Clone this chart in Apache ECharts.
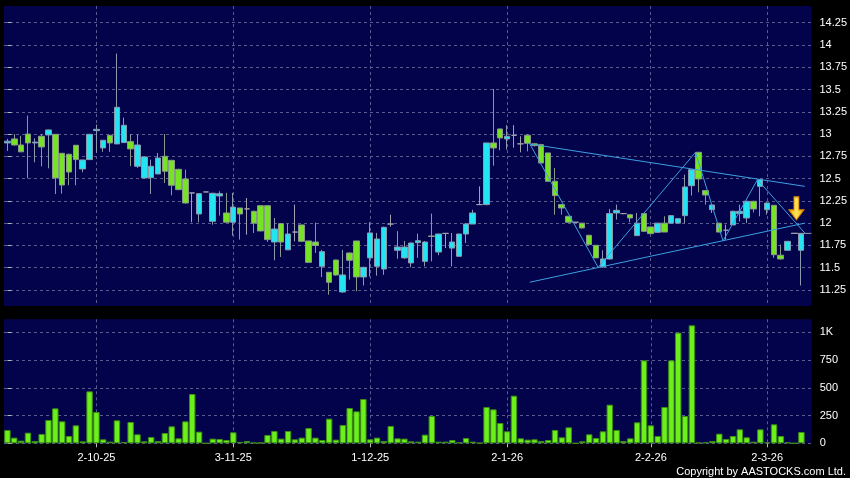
<!DOCTYPE html>
<html><head><meta charset="utf-8">
<script src="https://cdn.jsdelivr.net/npm/echarts@6/dist/echarts.min.js"></script>
<style>html,body{margin:0;padding:0;background:#000;}#c{width:850px;height:478px;}</style>
</head><body><div id="c"></div>
<script>
// ---- calendar (trading days) ----
const startDate = '2025-09-12';
const slotCount = 118; // 117 trading days + one empty slot at right
const holidays = ['2025-10-01','2025-10-07','2025-10-29','2025-12-24','2025-12-25','2025-12-26','2026-01-01','2026-02-17','2026-02-18','2026-02-19'];

// ---- price data (per trading day) ----
const opens  = [12.90,12.945,12.877,13.0,12.90,12.975,12.99,12.997,12.784,12.773,12.874,12.608,12.713,13.038,12.844,12.986,12.889,12.904,12.915,12.638,
 12.507,12.51,12.552,12.75,12.705,12.604,12.496,12.339,12.103,12.35,12.02,12.305,12.114,12.01,12.17,12.16,12.133,12.196,12.196,11.788,
 11.994,11.70,11.90,11.98,11.80,11.788,11.515,11.448,11.586,11.227,11.665,11.80,11.396,11.61,11.515,11.485,11.99,11.695,11.61,11.553,
 11.781,11.571,11.856,11.676,11.885,11.72,11.628,11.878,11.99,12.208,12.208,12.90,13.057,12.945,12.985,12.89,12.986,12.89,12.881,12.788,
 12.47,12.208,12.077,12.01,12.0,11.863,11.751,11.508,11.598,12.114,12.107,12.095,11.86,12.107,11.957,11.897,12.0,12.0,12.0,12.084,
 12.42,12.795,12.365,12.151,12.0,11.92,11.98,12.107,12.058,12.245,12.413,12.151,12.20,11.64,11.695,11.885,11.695];
const closes = [12.92,12.877,12.80,12.90,12.91,12.855,13.046,12.507,12.428,12.574,12.713,12.709,12.997,13.053,12.93,12.90,13.30,13.098,12.833,12.877,
 12.743,12.638,12.731,12.582,12.425,12.376,12.226,12.339,12.331,12.35,12.335,12.33,12.01,12.18,12.103,12.16,12.0,11.912,11.815,11.934,
 11.788,11.878,11.90,11.796,11.56,11.75,11.68,11.336,11.418,11.418,11.583,11.396,11.504,11.89,11.822,11.953,11.99,11.732,11.732,11.777,
 11.803,11.788,11.85,11.878,11.885,11.788,11.878,11.99,12.114,12.208,12.90,12.844,12.956,12.975,12.985,12.89,12.896,12.87,12.675,12.47,
 12.309,12.17,12.01,12.01,11.946,11.759,11.61,11.598,12.107,12.144,12.107,12.058,12.0,11.908,11.882,12.0,11.90,12.084,12.05,12.406,
 12.60,12.496,12.316,12.204,11.90,11.92,12.133,12.133,12.245,12.159,12.488,12.226,11.646,11.598,11.796,11.885,11.878];
const lows   = [12.81,12.87,12.80,12.503,12.683,12.638,12.615,12.327,12.331,12.425,12.425,12.571,12.71,12.788,12.80,12.80,12.889,12.90,12.64,12.62,
 12.50,12.327,12.55,12.45,12.312,12.37,12.22,12.01,12.01,12.35,11.983,12.084,12.01,11.86,11.815,11.87,11.89,11.91,11.79,11.583,
 11.62,11.70,11.796,11.79,11.56,11.665,11.395,11.197,11.41,11.22,11.366,11.235,11.30,11.40,11.41,11.42,11.96,11.60,11.60,11.504,
 11.61,11.515,11.571,11.64,11.72,11.515,11.62,11.777,11.99,12.208,12.20,12.645,12.818,12.825,12.847,12.795,12.806,12.86,12.67,12.47,
 12.095,12.095,12.01,12.01,11.94,11.75,11.61,11.50,11.59,12.04,12.10,12.01,11.86,11.90,11.88,11.89,11.90,12.0,12.0,12.0,
 12.309,12.346,12.208,12.114,11.90,11.815,11.98,12.02,12.0,12.12,12.077,12.095,11.61,11.59,11.69,11.885,11.30];
const highs  = [12.945,13.0,12.98,13.207,12.952,13.0,13.05,13.0,12.784,12.78,12.874,12.71,13.0,13.106,12.93,12.99,13.903,13.184,13.0,12.997,
 12.75,12.713,12.788,13.0,12.71,12.61,12.60,12.34,12.335,12.35,12.34,12.357,12.34,12.34,12.17,12.282,12.14,12.2,12.2,12.058,
 12.0,11.994,12.208,11.98,11.80,12.005,11.70,11.45,11.59,11.70,11.67,11.80,11.51,12.01,11.89,11.96,12.095,11.91,11.80,11.78,
 11.882,11.80,12.107,11.88,11.885,11.89,11.88,12.0,12.15,12.413,12.90,13.506,13.06,13.10,13.10,12.975,13.0,12.90,12.89,12.79,
 12.62,12.21,12.08,12.01,12.0,11.87,11.75,11.695,12.16,12.208,12.11,12.10,12.114,12.114,11.96,12.0,12.077,12.09,12.05,12.544,
 12.60,12.80,12.37,12.21,12.0,11.983,12.14,12.208,12.25,12.25,12.49,12.23,12.20,11.759,11.80,11.885,11.885];
const volumes = [120,51,24,96,21,84,210,315,198,66,162,18,468,282,36,15,207,12,192,81,
 18,57,21,93,153,45,198,444,105,0,42,39,30,99,12,21,6,6,75,111,
 42,111,36,51,138,51,30,222,33,165,318,288,399,36,51,21,156,45,42,18,
 15,78,246,15,15,30,9,48,15,3,327,306,183,108,429,45,33,36,21,30,
 120,54,144,0,18,81,48,108,348,120,21,45,189,747,162,66,327,747,997,246,
 1063,6,9,21,87,39,66,126,54,15,126,9,171,66,9,0,102];

// ---- annotations (x in trading-day index, y in price) ----
const upperTrend = [[76.34,12.888],[116.52,12.413]];
const lowerTrend = [[76.34,11.337],[116.52,12.0]];
const zigzag = [[76.34,12.889],[86.32,11.504],[100.55,12.795],[104.58,11.80],[109.61,12.488],[116.52,11.89]];
const lastPrice = [[114.5,11.885],[117.5,11.885]];
const arrowPoint = [[115.3,12.166]];

// ---- axis ticks ----
const priceTicks = [11.25,11.5,11.75,12,12.25,12.5,12.75,13,13.25,13.5,13.75,14,14.25];
const volumeTicks = [0,250,500,750,1000];

function tradingDays(start, n, hol) {
  const out = []; const d = new Date(start + 'T00:00:00Z');
  while (out.length < n) {
    const dow = d.getUTCDay(); const iso = d.toISOString().slice(0,10);
    if (dow !== 0 && dow !== 6 && !hol.includes(iso)) out.push(iso);
    d.setUTCDate(d.getUTCDate() + 1);
  }
  return out;
}
const dates = tradingDays(startDate, slotCount, holidays);
const monthStarts = [];
for (let i = 1; i < dates.length; i++) if (dates[i].slice(5,7) !== dates[i-1].slice(5,7)) monthStarts.push(i);
function fmtDate(iso) { const [y,m,d] = iso.split('-'); return (+d) + '-' + (+m) + '-' + y.slice(2); }

const candleData = opens.map((o,i) => [o, closes[i], lows[i], highs[i]]);

const chart = echarts.init(document.getElementById('c'), null, {renderer: 'canvas'});
const font = 'Liberation Sans, Arial, sans-serif';
const gridLine = {show: true, lineStyle: {color: '#5a5a8e', type: [3,3], width: 1}};
const L = 4, R = 38.3;
chart.setOption({
  animation: false,
  backgroundColor: '#000000',
  grid: [
    {left: L, right: R, top: 6, height: 300, show: true, backgroundColor: '#03034b', borderWidth: 0},
    {left: L, right: R, top: 319.3, height: 124, show: true, backgroundColor: '#03034b', borderWidth: 0}
  ],
  xAxis: [
    {type: 'category', gridIndex: 0, data: dates, boundaryGap: true, show: false},
    {type: 'category', gridIndex: 1, data: dates, boundaryGap: true, show: false},
    {type: 'value', gridIndex: 0, min: -0.5, max: slotCount - 0.5,
      axisLine: {show: false}, axisLabel: {show: false},
      axisTick: {show: false, customValues: monthStarts}, splitLine: gridLine},
    {type: 'value', gridIndex: 1, min: -0.5, max: slotCount - 0.5, position: 'bottom',
      axisLine: {show: false},
      axisTick: {show: true, length: 4, customValues: monthStarts, lineStyle: {color: '#bbbbbb'}},
      axisLabel: {show: true, customValues: monthStarts, margin: 9, color: '#ffffff', fontSize: 11, fontFamily: font,
        formatter: v => fmtDate(dates[Math.round(v)])},
      splitLine: gridLine}
  ],
  yAxis: [
    {type: 'value', gridIndex: 0, position: 'right', min: 11.07, max: 14.437, scale: true,
      axisLine: {show: false},
      axisTick: {show: true, length: 4, inside: false, customValues: priceTicks, lineStyle: {color: '#bbbbbb'}},
      axisLabel: {customValues: priceTicks, margin: 8, color: '#ffffff', fontSize: 11, fontFamily: font,
        formatter: v => String(+v.toFixed(2))},
      splitLine: gridLine},
    {type: 'value', gridIndex: 1, position: 'right', min: 0, max: 1117,
      axisLine: {show: false},
      axisTick: {show: true, length: 4, customValues: volumeTicks, lineStyle: {color: '#bbbbbb'}},
      axisLabel: {customValues: volumeTicks, margin: 8, color: '#ffffff', fontSize: 11, fontFamily: font,
        formatter: v => v >= 1000 ? (v/1000) + 'K' : String(v)},
      splitLine: gridLine}
  ],
  series: [
    {type: 'candlestick', xAxisIndex: 0, yAxisIndex: 0, data: candleData, barWidth: 6,
      itemStyle: {color: '#25e4f2', color0: '#76e424', borderColor: '#8a9aae', borderColor0: '#8a9a8a',
        borderColorDoji: '#a0a0b0', borderWidth: 1}},
    {type: 'bar', xAxisIndex: 1, yAxisIndex: 1, data: volumes, barWidth: 6.4,
      itemStyle: {color: '#6cf01c', borderColor: '#3e8e14', borderWidth: 1}},
    {type: 'line', xAxisIndex: 2, yAxisIndex: 0, data: upperTrend, symbol: 'none', silent: true,
      lineStyle: {color: '#3d9fe0', width: 1}},
    {type: 'line', xAxisIndex: 2, yAxisIndex: 0, data: lowerTrend, symbol: 'none', silent: true,
      lineStyle: {color: '#3d9fe0', width: 1}},
    {type: 'line', xAxisIndex: 2, yAxisIndex: 0, data: zigzag, symbol: 'none', silent: true,
      lineStyle: {color: '#3d9fe0', width: 1}},
    {type: 'line', xAxisIndex: 2, yAxisIndex: 0, data: lastPrice, symbol: 'none', silent: true,
      lineStyle: {color: '#9a9aaa', width: 1}},
    {type: 'scatter', xAxisIndex: 2, yAxisIndex: 0, data: arrowPoint, silent: true,
      symbol: 'path://M5,0 L10,0 L10,13 L15,13 L7.5,23 L0,13 L5,13 Z', symbolSize: [15, 23],
      itemStyle: {opacity: 1, borderColor: '#d27d00', borderWidth: 1,
        color: new echarts.graphic.LinearGradient(0, 0, 1, 0, [{offset: 0, color: '#f6b400'}, {offset: 0.5, color: '#ffe45a'}, {offset: 1, color: '#f0a800'}])}}
  ],
  graphic: [
    {type: 'text', right: 4, top: 466,
      style: {text: 'Copyright by AASTOCKS.com Ltd.', fill: '#ffffff', font: '11px Liberation Sans, Arial, sans-serif'}}
  ]
});
</script></body></html>
